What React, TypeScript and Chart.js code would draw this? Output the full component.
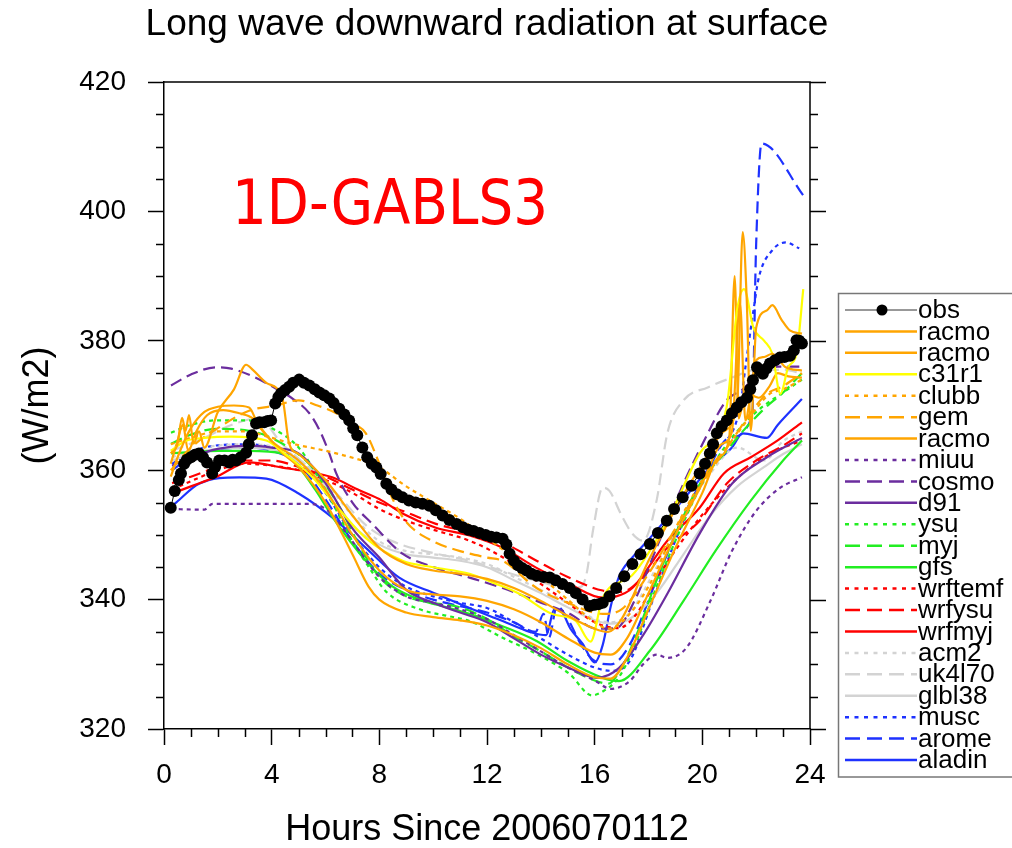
import React, { useEffect, useRef } from 'react';
import { Chart, registerables } from 'chart.js';

Chart.register(...registerables);

type P = [number, number];

const FONT = "'Liberation Sans', Arial, Helvetica, sans-serif";

const chartTitle = 'Long wave downward radiation at surface';
const xTitle = 'Hours Since 2006070112';
const yTitle = '(W/m2)';
const annotationText = '1D-GABLS3';

const xTickValues = [0, 4, 8, 12, 16, 20, 24];
const yTickValues = [320, 340, 360, 380, 400, 420];

const obs: P[] = [[0.25,354.2],[0.4,356.8],[0.55,358.5],[0.63,359.5],[0.75,361],[0.85,361.6],[1.0,362],[1.15,362.4],[1.3,362.6],[1.45,362],[1.6,361.2],[1.79,359.5],[1.9,360.5],[2.05,361.5],[2.25,361.5],[2.42,361.2],[2.55,361.6],[2.68,361.5],[2.85,362],[3.05,362.7],[3.15,364],[3.27,365.4],[3.42,367.2],[3.55,367.4],[3.72,367.4],[3.85,367.6],[3.98,367.7],[4.13,370.3],[4.25,371.3],[4.35,371.9],[4.5,372.4],[4.65,372.9],[4.8,373.5],[5.02,374.0],[5.2,373.5],[5.4,373.1],[5.6,372.5],[5.77,372.0],[5.95,371.6],[6.14,371.1],[6.3,370.4],[6.51,369.5],[6.7,368.6],[6.88,367.7],[7.03,366.5],[7.18,365.4],[7.37,363.5],[7.55,362.0],[7.72,361],[7.89,360.4],[8.05,359.4],[8.26,357.9],[8.45,357],[8.65,356.3],[8.86,355.8],[9.1,355.3],[9.35,355],[9.6,354.8],[9.86,354.5],[10.1,353.8],[10.35,353],[10.6,352.3],[10.87,351.7],[11.1,351.2],[11.3,350.8],[11.5,350.6],[11.72,350.3],[11.95,350],[12.15,349.7],[12.35,349.6],[12.58,349.4],[12.72,348.5],[12.84,347.1],[13.0,346],[13.15,345.3],[13.3,344.9],[13.47,344.5],[13.65,344],[13.85,343.7],[14.1,343.5],[14.33,343.4],[14.55,343],[14.8,342.4],[15.07,341.8],[15.3,341],[15.55,340],[15.81,339.0],[16.0,339.2],[16.15,339.3],[16.3,339.5],[16.55,340.5],[16.8,341.8],[17.1,343.6],[17.4,345.5],[17.7,347],[18.05,348.6],[18.35,350.3],[18.68,352.2],[18.95,354],[19.27,355.8],[19.6,357.6],[19.9,359.5],[20.1,361],[20.28,362.6],[20.4,364],[20.54,365.7],[20.72,366.8],[20.91,367.7],[21.1,368.8],[21.28,369.7],[21.45,370.5],[21.66,371.2],[21.78,372.5],[21.88,373.9],[22.03,375.9],[22.15,375.3],[22.25,374.9],[22.38,375.7],[22.51,376.5],[22.7,377],[22.88,377.4],[23.05,377.5],[23.26,377.7],[23.4,378.5],[23.5,380.1],[23.6,380],[23.7,379.6]];

const racmoA: P[] = [[0.25,362.6],[0.5,364],[0.67,368.1],[0.8,366.1],[0.93,368.5],[1.1,364.1],[1.3,366],[1.5,363.5],[2.0,369],[2.6,372.5],[3.05,376.3],[3.3,375.5],[3.8,373.5],[4.4,371.1],[4.65,364.1],[5.0,362.5],[6.0,358.5],[7.0,353],[8.0,348],[9.0,345.5],[10,344.5],[11,344],[12,343.2],[13,341.8],[14,339.8],[15,337.5],[16,335.5],[16.5,335],[17,337],[18,346],[19,354],[20,361],[20.8,366],[21.3,370.8],[21.5,396.8],[21.65,386.3],[21.8,366.1],[22.0,382],[22.4,384.7],[22.6,385.5],[22.95,383.2],[23.25,381.6],[23.7,381.1]];
const racmoB: P[] = [[0.25,359],[0.6,363],[1.0,366.5],[1.5,369],[2.0,369.8],[2.6,370],[3.16,369.7],[3.5,367],[4.0,364.5],[5.0,361.5],[6.0,357],[7.0,350],[8.0,344.5],[9.0,341.5],[10,340.8],[11,340.5],[12,339.8],[13,338.5],[14,336.5],[15,334],[16,331.8],[16.6,331.5],[17.2,334],[18,341],[19,350],[20,358],[20.7,364],[21.1,366],[21.4,385.8],[21.6,367.7],[21.8,372],[22.0,377],[22.3,377.5],[22.6,378],[23.1,375.9],[23.7,375.4]];
const c31r1: P[] = [[0.25,363],[0.8,364.5],[1.5,365],[2.5,365.2],[3.8,364.6],[4.5,362.5],[5.5,359],[6.5,354],[7.5,349.5],[8.86,346],[10,345],[11.35,344],[12.3,342.5],[13.2,340.9],[14.4,337.8],[15.3,336.7],[15.85,333.5],[16.3,340.3],[17.4,343.8],[18.7,352.2],[19.9,362.6],[20.9,369.7],[21.3,385],[21.55,388],[21.9,382],[22.3,380],[22.6,378],[22.9,371.8],[23.2,376],[23.5,378],[23.75,388]];
const clubb: P[] = [[0.25,364],[1.0,365],[2.0,366],[3.0,366],[4.0,365],[4.77,364.1],[6.4,362.6],[8.0,360.4],[9.0,357.5],[10,355],[11,352.5],[12,349.5],[13,346.5],[14,343.5],[15,340],[16,336.5],[16.5,335.5],[17,336.5],[18,342],[19,351],[20,358.5],[21,364],[22,369.5],[22.5,371.8],[23,372.5],[23.7,374]];
const gem: P[] = [[0.25,360],[1.0,363.5],[2.0,366.5],[3.16,369.2],[4.17,370],[5.0,370.8],[5.7,370],[6.4,368.8],[7.0,367.3],[7.5,365.7],[8.0,361],[8.5,355.5],[9.0,352],[10,349],[11,347.5],[12,346.5],[12.58,346],[13.84,341.8],[15,339.5],[16.3,337.8],[17,338.5],[18,344],[19,351],[20,358],[21,364],[22,370],[22.4,371.8],[23,373],[23.7,375]];
const racmoC: P[] = [[0.25,361],[0.5,364.5],[0.7,367],[0.9,363],[1.2,366],[1.6,368.5],[2.2,369.3],[2.8,368.8],[3.3,368],[3.7,366],[4.3,363],[5.0,360.5],[6.0,355],[7.0,347],[7.6,342],[8.0,340],[9.0,338],[10,337.3],[11,336.8],[12,336],[13,334.5],[14,332.5],[15,330],[16,328],[16.6,327.8],[17.2,331],[18,338.5],[19,348],[20,356.5],[20.6,362],[21.0,365],[21.2,390],[21.35,368],[21.6,372],[22.1,371.2],[22.5,373],[22.8,375],[23.2,374.5],[23.7,374.3]];
const miuu: P[] = [[0.25,354],[1.49,353.9],[1.8,354.8],[5.4,354.8],[6.1,353.7],[7.0,349],[8.0,343.5],[9.0,340.5],[10,339.5],[11,338.5],[12,337],[13,334.5],[14,332],[15,329.5],[16,327.5],[16.6,326.2],[17.3,327.4],[17.8,330],[18.3,331.5],[18.7,331],[19.4,332.5],[20.3,339.8],[21.1,347.5],[22.0,353.7],[22.9,357.3],[23.7,358.9]];
const cosmo: P[] = [[0.26,373.1],[1.0,374.8],[1.93,375.9],[2.5,375.7],[3.3,374.5],[4.17,372.6],[4.8,371],[5.4,368.8],[5.8,366],[6.14,362.6],[6.4,359.5],[7.0,355],[7.74,351.7],[8.86,347.1],[10.1,344.9],[11.35,343.4],[12.58,341.8],[13.84,339.8],[15.07,337.8],[16.07,335.5],[16.8,335.6],[17.5,340],[18.3,348],[19.2,357],[20.0,364],[20.9,370.8],[21.5,372.5],[22.1,375],[22.8,376],[23.7,376]];
const d91: P[] = [[0.3,360.7],[1.0,362],[2.0,363.3],[3.16,363.8],[4.0,363.5],[5.0,362.6],[6.0,358],[7.0,351],[8.0,346.5],[9.0,341.5],[10,339.5],[11,338],[12,336.5],[13,334],[14,331.5],[15.07,329.4],[16.07,327.9],[16.9,329.4],[17.8,334.5],[18.7,340.9],[19.9,350.2],[21.1,357.9],[22.4,362],[23.7,365]];
const ysu: P[] = [[0.26,365.8],[1.0,367],[1.93,367.7],[3.16,367.7],[4.0,366.5],[5.0,363.5],[6.0,357],[7.0,349],[7.63,344.9],[8.26,341.2],[9.5,338.5],[10.5,337.5],[11.35,336.7],[12.58,334.1],[13.84,331.6],[15.07,328.5],[15.9,325.2],[16.3,325.8],[16.9,328],[17.5,333],[18.3,342],[19.2,351],[20.0,358],[21.0,364.5],[22,369],[23,372],[23.7,374]];
const myj: P[] = [[0.26,364.1],[1.0,365.5],[1.93,366.4],[3.16,366.1],[4.4,364.1],[5.5,360.5],[6.5,354.5],[7.3,348],[8.0,343.5],[9.0,340.5],[10,339.5],[11,338.8],[12,337],[13,334.3],[14,332],[15,329.5],[16,327.5],[16.5,327],[17,329.5],[17.6,335],[18.3,343],[19.2,352],[20.0,358.5],[20.8,362.5],[21.5,366],[22.3,369.5],[23,372],[23.7,375]];
const gfs: P[] = [[0.26,362.6],[1.0,362.8],[2.0,363],[3.16,363],[4.4,362.6],[5.0,360.5],[5.65,356.8],[6.3,352.5],[6.9,349.1],[7.6,345.5],[8.5,342],[9.5,340],[10.5,338.8],[11.35,337.8],[12.5,336],[13.84,333.6],[15,330.5],[16.3,327.9],[16.9,327.4],[18.05,332.1],[19.3,339.8],[20.5,347.6],[21.8,355.3],[23.0,361.5],[23.7,364.6]];
const wrftemf: P[] = [[0.3,357],[1.0,358.3],[2.0,360],[3.0,361],[4.0,360.7],[5.0,360],[6.0,358.5],[7.0,356.5],[8.0,354],[9.0,352.2],[10.0,350.8],[11.35,349.1],[12.6,346.5],[13.8,343],[15,339.5],[16.0,336.5],[16.9,335.6],[17.5,337.5],[18.5,344.5],[19.5,350.5],[20.5,355.5],[21.5,359.5],[22.5,362.5],[23.7,364.6]];
const wrfysu: P[] = [[0.3,358],[1.0,359],[2.0,360.5],[3.0,361.5],[4.0,361.5],[5.0,360.5],[6.0,359],[7.0,357],[8.0,355],[9.0,353.5],[10.1,351.7],[11.3,350.5],[12.5,349],[13.84,346],[15,343.5],[16.3,341.4],[17.0,341.2],[17.8,343.5],[18.7,348],[19.9,352.2],[20.9,357.9],[22,361.5],[23,363.8],[23.7,365.7]];
const wrfmyj: P[] = [[0.3,356.4],[1.0,357.5],[1.9,358.9],[3.16,361.2],[4.4,360.4],[5.3,359.8],[6.25,358.9],[7.2,357],[8.1,355.3],[8.86,353.3],[10.1,351.1],[11.35,349.9],[12.58,348],[13.84,344.9],[15.07,342.4],[16.3,340.3],[16.8,340.5],[17.4,341.8],[18.7,349.1],[19.9,354.2],[20.8,359.5],[21.8,362],[22.8,364.6],[23.7,367.4]];
const acm2: P[] = [[0.3,362],[1.5,363.5],[3.0,364],[4.5,363],[6,358],[7,353],[8,349],[9,347.5],[10,347],[11,346.5],[12,345.5],[13,343.5],[14,341.5],[15,339.5],[16,337],[16.6,336.5],[17.3,338],[18.3,345],[19.3,353],[20.3,359.5],[21.3,363.5],[22.3,361.5],[23,364.5],[23.7,366]];
const uk4l70: P[] = [[0.3,363],[1.5,365],[2.5,367],[3.5,368],[4.4,364],[5.5,360],[6.5,356],[7.5,351.5],[8.5,349],[10.1,347.1],[11.35,346],[12.5,344.5],[13.84,342.9],[15.07,341.8],[15.5,342],[15.7,344],[15.95,351],[16.3,357.3],[16.55,356.8],[17.0,353],[17.4,350.2],[17.8,349.1],[18.3,355.3],[18.7,365.7],[19.3,370.8],[20.2,372.8],[21.1,374.3],[22,375.5],[23,375.5],[23.7,375]];
const glbl38: P[] = [[0.3,361.5],[1.5,363],[3,363.5],[4.5,362.5],[6,357.5],[7,351.5],[8,348.5],[9,347],[10,346.5],[11,346],[12,345],[13,343],[14,341],[15,338.8],[16,336.8],[16.6,336.3],[17.3,337],[18.3,341],[19.3,347],[20.3,353],[21.3,357.5],[22.3,360.5],[23,362.5],[23.7,364]];
const musc: P[] = [[0.3,361],[1.0,362.8],[1.9,363.8],[3.0,364],[4.0,363.5],[5.0,361.5],[6.0,356.5],[7.0,350],[8.0,345],[9.0,342],[10,340.5],[11,339.5],[12,338.7],[13,336.5],[14,334],[15,331.5],[16,329.5],[16.6,329],[17.3,330.5],[18.05,338.7],[19.3,352.2],[20.5,362.6],[21.4,369.7],[21.6,375.9],[21.9,384.7],[22.1,389.8],[22.6,394],[23.1,395.2],[23.6,394.3]];
const arome: P[] = [[0.3,360],[1.0,362],[2.0,363.2],[3.0,363.5],[4.0,363],[5.0,361],[6.0,355.5],[7.0,349],[8.0,344],[9.0,341.5],[10,340],[11,339],[12,338],[13,336.5],[13.8,335],[14.1,337.8],[14.3,334.1],[14.6,339],[15.0,337],[15.5,333],[16.0,330.5],[16.6,330],[17.3,333],[18.2,342],[19.2,352],[20.2,360],[21.0,365],[21.85,368.4],[22.0,395],[22.2,410.5],[23.8,402.2]];
const aladin: P[] = [[0.3,354.5],[0.45,355],[1.3,357.9],[2.8,358.9],[3.8,358.7],[5.0,356.4],[6.4,352.2],[7.5,348],[8.74,343.4],[10.1,340.9],[11.35,338.7],[12.58,336.7],[13.6,335],[14.2,334.5],[14.5,338.5],[14.8,338],[15.1,335.5],[15.55,333.2],[16.0,330.3],[16.3,333],[16.6,339],[16.9,343.5],[17.4,346.5],[18.05,349.5],[19.3,355.5],[20.3,360.5],[21.1,363.5],[21.5,365.7],[22.4,365],[22.8,367],[23.7,371]];

const modelSeries: P[][] = [racmoA, racmoB, c31r1, clubb, gem, racmoC, miuu, cosmo, d91, ysu, myj, gfs, wrftemf, wrfysu, wrfmyj, acm2, uk4l70, glbl38, musc, arome, aladin];
const modelNames = ['racmo', 'racmo', 'c31r1', 'clubb', 'gem', 'racmo', 'miuu', 'cosmo', 'd91', 'ysu', 'myj', 'gfs', 'wrftemf', 'wrfysu', 'wrfmyj', 'acm2', 'uk4l70', 'glbl38', 'musc', 'arome', 'aladin'];

const ORANGE = '#FFA500';
const YELLOW = '#FFFF00';
const PURPLE = '#6B2D9E';
const GREEN = '#22EE22';
const RED = '#FF0000';
const GRAY = '#D3D3D3';
const BLUE = '#1E32FF';
const modelColors = [ORANGE, ORANGE, YELLOW, ORANGE, ORANGE, ORANGE, PURPLE, PURPLE, PURPLE, GREEN, GREEN, GREEN, RED, RED, RED, GRAY, GRAY, GRAY, BLUE, BLUE, BLUE];
// 0 solid, 1 dotted, 2 dashed
const modelStyles = [0, 0, 0, 1, 2, 0, 1, 2, 0, 1, 2, 0, 1, 2, 0, 1, 2, 0, 1, 2, 0];

const plotDash = [[], [4, 4], [12, 6]];
const legendDash = [[], [4, 5.5], [15, 7]];

const decoPlugin = {
  id: 'deco',
  afterDraw(chart: any) {
    const { ctx, chartArea: ca, scales } = chart;
    const xs = scales.x;
    const ys = scales.y;
    ctx.save();
    ctx.strokeStyle = '#000';
    ctx.lineWidth = 1.5;
    ctx.setLineDash([]);
    ctx.beginPath();
    ctx.moveTo(ca.left, ca.top);
    ctx.lineTo(ca.right, ca.top);
    ctx.lineTo(ca.right, ca.bottom);
    ctx.stroke();
    ctx.beginPath();
    for (let v = 320; v <= 420; v += 5) {
      const py = Math.round(ys.getPixelForValue(v)) + 0.5;
      const major = v % 20 === 0;
      const len = major ? 16 : 8;
      if (!major) {
        ctx.moveTo(ca.left - len, py);
        ctx.lineTo(ca.left, py);
      }
      ctx.moveTo(ca.right, py);
      ctx.lineTo(ca.right + len, py);
    }
    for (let h = 0; h <= 24; h += 1) {
      if (h % 4 === 0) continue;
      const px = Math.round(xs.getPixelForValue(h)) + 0.5;
      ctx.moveTo(px, ca.bottom);
      ctx.lineTo(px, ca.bottom + 8);
    }
    ctx.stroke();

    ctx.fillStyle = '#000';
    ctx.font = `37px ${FONT}`;
    ctx.textAlign = 'center';
    ctx.textBaseline = 'alphabetic';
    ctx.fillText(chartTitle, (ca.left + ca.right) / 2, 35);

    ctx.save();
    ctx.font = `62px 'DejaVu Sans', Verdana, sans-serif`;
    ctx.textAlign = 'left';
    const w = ctx.measureText(annotationText).width;
    ctx.translate(232, 224);
    ctx.scale(316 / w, 1);
    ctx.fillStyle = '#FF0000';
    ctx.fillText(annotationText, 0, 0);
    ctx.restore();

    const lx = 838.5, ly = 293.5, lb = 777;
    ctx.fillStyle = '#fff';
    ctx.fillRect(lx, ly, 200, lb - ly);
    ctx.strokeStyle = '#777';
    ctx.lineWidth = 1.5;
    ctx.strokeRect(lx, ly, 200, lb - ly);
    const x0 = 845, x1 = 917, tx = 918;
    const rowY = (i: number) => 310 + i * 21.43;
    ctx.font = `26px ${FONT}`;
    ctx.textAlign = 'left';
    ctx.textBaseline = 'middle';
    ctx.strokeStyle = '#333';
    ctx.lineWidth = 1;
    ctx.beginPath();
    ctx.moveTo(x0, rowY(0));
    ctx.lineTo(x1, rowY(0));
    ctx.stroke();
    ctx.fillStyle = '#000';
    ctx.beginPath();
    ctx.arc(882, rowY(0), 5.5, 0, Math.PI * 2);
    ctx.fill();
    ctx.fillText('obs', tx, rowY(0) + 1);
    modelNames.forEach((name, i) => {
      const y = rowY(i + 1);
      ctx.strokeStyle = modelColors[i];
      ctx.lineWidth = 2.5;
      ctx.setLineDash(legendDash[modelStyles[i]]);
      ctx.beginPath();
      ctx.moveTo(x0, y);
      ctx.lineTo(x1, y);
      ctx.stroke();
      ctx.setLineDash([]);
      ctx.fillStyle = '#000';
      ctx.fillText(name, tx, y + 1);
    });
    ctx.restore();
  },
};

export default function App() {
  const ref = useRef<HTMLCanvasElement | null>(null);
  useEffect(() => {
    if (!ref.current) return;
    const datasets: any[] = [
      {
        label: 'obs',
        data: obs.map(([x, y]) => ({ x, y })),
        borderColor: '#000',
        backgroundColor: '#000',
        borderWidth: 1,
        pointRadius: 6,
        pointBorderWidth: 0,
        pointBackgroundColor: '#000',
        tension: 0,
        showLine: true,
      },
      ...modelSeries.map((s, i) => ({
        label: modelNames[i],
        data: s.map(([x, y]) => ({ x, y })),
        borderColor: modelColors[i],
        backgroundColor: modelColors[i],
        borderWidth: 2.2,
        borderDash: plotDash[modelStyles[i]],
        pointRadius: 0,
        cubicInterpolationMode: 'monotone',
        fill: false,
      })),
    ];
    const tickFont = { family: FONT, size: 28 };
    const titleFont = { family: FONT, size: 36, lineHeight: 1 };
    const chart = new Chart(ref.current, {
      type: 'line',
      data: { datasets },
      options: {
        animation: false,
        responsive: false,
        layout: { padding: { top: 82, right: 202, left: 0, bottom: 0 } },
        plugins: { legend: { display: false }, tooltip: { enabled: false }, title: { display: false } },
        scales: {
          x: {
            type: 'linear',
            min: 0,
            max: 24,
            position: 'bottom',
            afterBuildTicks: (s: any) => { s.ticks = xTickValues.map((v) => ({ value: v })); },
            ticks: { font: tickFont, color: '#000', padding: 13, maxRotation: 0, autoSkip: false },
            grid: { display: true, drawOnChartArea: false, drawTicks: true, tickLength: 16, tickColor: '#000', tickWidth: 1.5 },
            border: { display: true, color: '#000', width: 1.5 },
            title: { display: true, text: xTitle, font: titleFont, color: '#000', padding: { top: 0, bottom: 0 } },
            afterFit: (s: any) => { s.height = 119; },
          },
          y: {
            type: 'linear',
            min: 320,
            max: 420,
            afterBuildTicks: (s: any) => { s.ticks = yTickValues.map((v) => ({ value: v })); },
            ticks: { font: tickFont, color: '#000', padding: 22, autoSkip: false },
            grid: { display: true, drawOnChartArea: false, drawTicks: true, tickLength: 16, tickColor: '#000', tickWidth: 1.5 },
            border: { display: true, color: '#000', width: 1.5 },
            title: { display: true, text: yTitle, font: titleFont, color: '#000', padding: { top: 20, bottom: 0 } },
            afterFit: (s: any) => { s.width = 164; },
          },
        },
      } as any,
      plugins: [decoPlugin],
    });
    return () => chart.destroy();
  }, []);
  return (
    <div style={{ position: 'absolute', left: 0, top: 0, width: 1012, height: 848, background: '#fff' }}>
      <canvas ref={ref} width={1012} height={848} style={{ display: 'block' }} />
    </div>
  );
}
